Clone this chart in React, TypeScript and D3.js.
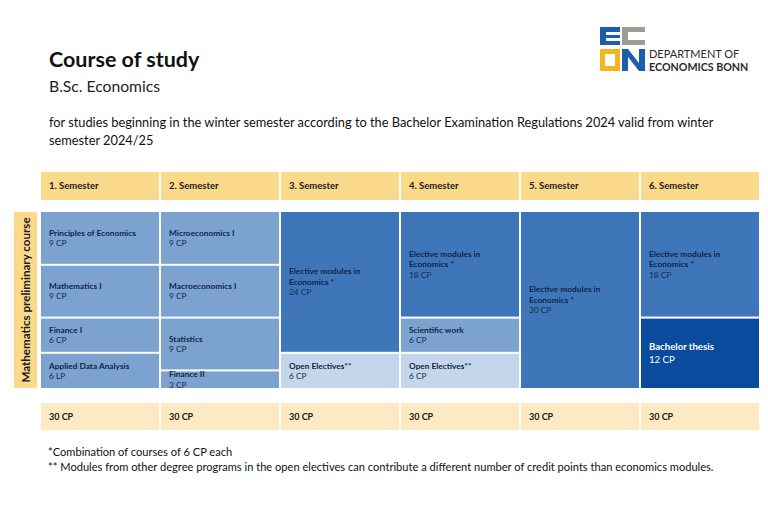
import React from "react";
import * as d3 from "d3";

const semesters = ["1. Semester", "2. Semester", "3. Semester", "4. Semester", "5. Semester", "6. Semester"];
const semesterTotals = ["30 CP", "30 CP", "30 CP", "30 CP", "30 CP", "30 CP"];

const moduleSemester = [0, 0, 0, 0, 1, 1, 1, 1, 2, 2, 3, 3, 3, 4, 5, 5];
const moduleNames = [
  "Principles of Economics",
  "Mathematics I",
  "Finance I",
  "Applied Data Analysis",
  "Microeconomics I",
  "Macroeconomics I",
  "Statistics",
  "Finance II",
  "Elective modules in\nEconomics *",
  "Open Electives**",
  "Elective modules in\nEconomics *",
  "Scientific work",
  "Open Electives**",
  "Elective modules in\nEconomics *",
  "Elective modules in\nEconomics *",
  "Bachelor thesis",
];
const moduleCP = [9, 9, 6, 6, 9, 9, 9, 3, 24, 6, 18, 6, 6, 30, 18, 12];
const moduleUnits = ["CP", "CP", "CP", "LP", "CP", "CP", "CP", "CP", "CP", "CP", "CP", "CP", "CP", "CP", "CP", "CP"];
const moduleKind = [
  "core", "core", "core", "core",
  "core", "core", "core", "core",
  "elective", "open",
  "elective", "core", "open",
  "elective",
  "elective", "thesis",
];
const totalCP = 30;

const title = "Course of study";
const subtitle = "B.Sc. Economics";
const descLines = [
  "for studies beginning in the winter semester according to the Bachelor Examination Regulations 2024 valid from winter",
  "semester 2024/25",
];
const footnotes = [
  "*Combination of courses of 6 CP each",
  "** Modules from other degree programs in the open electives can contribute a different number of credit points than economics modules.",
];
const sideLabel = "Mathematics preliminary course";

const FONT = "Lato, 'Open Sans', sans-serif";
const fills: Record<string, string> = {
  core: "#7CA2D0",
  elective: "#3E76B9",
  open: "#C3D6EB",
  thesis: "#0B4B9D",
};

export default function App() {
  const W = 768;
  const H = 531;
  const x = d3.scaleBand<string>().domain(semesters).range([41, 759]).paddingInner(1 / 60);
  const y = d3.scaleLinear().domain([0, totalCP]).range([212, 388]);

  const starts: number[] = [];
  const acc: Record<number, number> = {};
  moduleCP.forEach((cp, i) => {
    const s = moduleSemester[i];
    starts.push(acc[s] || 0);
    acc[s] = (acc[s] || 0) + cp;
  });

  const cells = moduleNames.map((name, i) => {
    const s0 = starts[i];
    const s1 = s0 + moduleCP[i];
    const y0 = y(s0) + (s0 > 0 ? 1 : 0);
    const y1 = y(s1) - (s1 < totalCP ? 1 : 0);
    const kind = moduleKind[i];
    const lines = name.split("\n");
    return { i, name, lines, x0: x(semesters[moduleSemester[i]])!, y0, y1, kind, cp: `${moduleCP[i]} ${moduleUnits[i]}` };
  });

  const bw = x.bandwidth();

  return (
    <svg width={W} height={H} style={{ position: "absolute", left: 0, top: 0, background: "#fff" }} fontFamily={FONT}>
      <rect width={W} height={H} fill="#fff" />
      <text x={49} y={67} fontSize={21.5} fontWeight={700} fill="#111">{title}</text>
      <text x={49} y={92} fontSize={15.7} fill="#222">{subtitle}</text>
      {descLines.map((l, k) => (
        <text key={k} x={49} y={127 + k * 18} fontSize={12.8} fill="#111">{l}</text>
      ))}

      {/* Logo */}
      <g>
        <rect x={600} y={27} width={20} height={18} fill="#1D5DAE" />
        <rect x={606} y={32} width={14} height={3} fill="#fff" />
        <rect x={606} y={38} width={14} height={3} fill="#fff" />
        <rect x={622} y={27} width={23} height={18} fill="#9C9B94" />
        <rect x={628} y={32} width={17} height={8} fill="#fff" />
        <rect x={600} y={49} width={20} height={22} fill="#F3B61F" />
        <rect x={605} y={54} width={10} height={12} fill="#fff" />
        <path d="M622,71 L622,49 L628,49 L639,63 L639,49 L645,49 L645,71 L639,71 L628,57 L628,71 Z" fill="#1D5DAE" />
        <text x={649} y={58} fontSize={11} fill="#2a2a2a">DEPARTMENT OF</text>
        <text x={649} y={71} fontSize={10.7} fontWeight={700} fill="#2a2a2a">ECONOMICS BONN</text>
      </g>

      {semesters.map((s) => (
        <g key={s}>
          <rect x={x(s)} y={172} width={bw} height={28} fill="#FBD98B" />
          <text x={x(s)! + 8} y={186} dy="0.35em" fontSize={9.5} fontWeight={700} fill="#1a1a1a">{s}</text>
        </g>
      ))}

      <rect x={14} y={y(0)} width={23} height={y(totalCP) - y(0)} fill="#FBD98B" />
      <text
        transform={`translate(25.5,${(y(0) + y(totalCP)) / 2}) rotate(-90)`}
        textAnchor="middle"
        dy="0.35em"
        fontSize={11.6}
        fontWeight={700}
        fill="#1a1a1a"
      >
        {sideLabel}
      </text>

      {cells.map((c) => {
        const thesis = c.kind === "thesis";
        const fs = thesis ? 9.6 : 8.3;
        const lh = thesis ? 13 : 10.5;
        const all = [...c.lines, c.cp];
        const cy = (c.y0 + c.y1) / 2;
        const first = cy - ((all.length - 1) / 2) * lh;
        return (
          <g key={c.i}>
            <rect x={c.x0} y={c.y0} width={bw} height={c.y1 - c.y0} fill={fills[c.kind]} />
            {all.map((t, k) => (
              <text
                key={k}
                x={c.x0 + 8}
                y={first + k * lh}
                dy="0.35em"
                fontSize={fs}
                fontWeight={k < all.length - 1 ? 700 : 400}
                fill={thesis ? "#fff" : k < all.length - 1 ? "#12244A" : "#17294C"}
              >
                {t}
              </text>
            ))}
          </g>
        );
      })}

      {semesters.map((s, i) => (
        <g key={"t" + s}>
          <rect x={x(s)} y={403} width={bw} height={27} fill="#FDEAC3" />
          <text x={x(s)! + 8} y={416.5} dy="0.35em" fontSize={9} fontWeight={700} fill="#1a1a1a">{semesterTotals[i]}</text>
        </g>
      ))}

      {footnotes.map((f, k) => (
        <text key={k} x={48} y={456 + k * 14.5} fontSize={11.1} fill="#111">{f}</text>
      ))}
    </svg>
  );
}
